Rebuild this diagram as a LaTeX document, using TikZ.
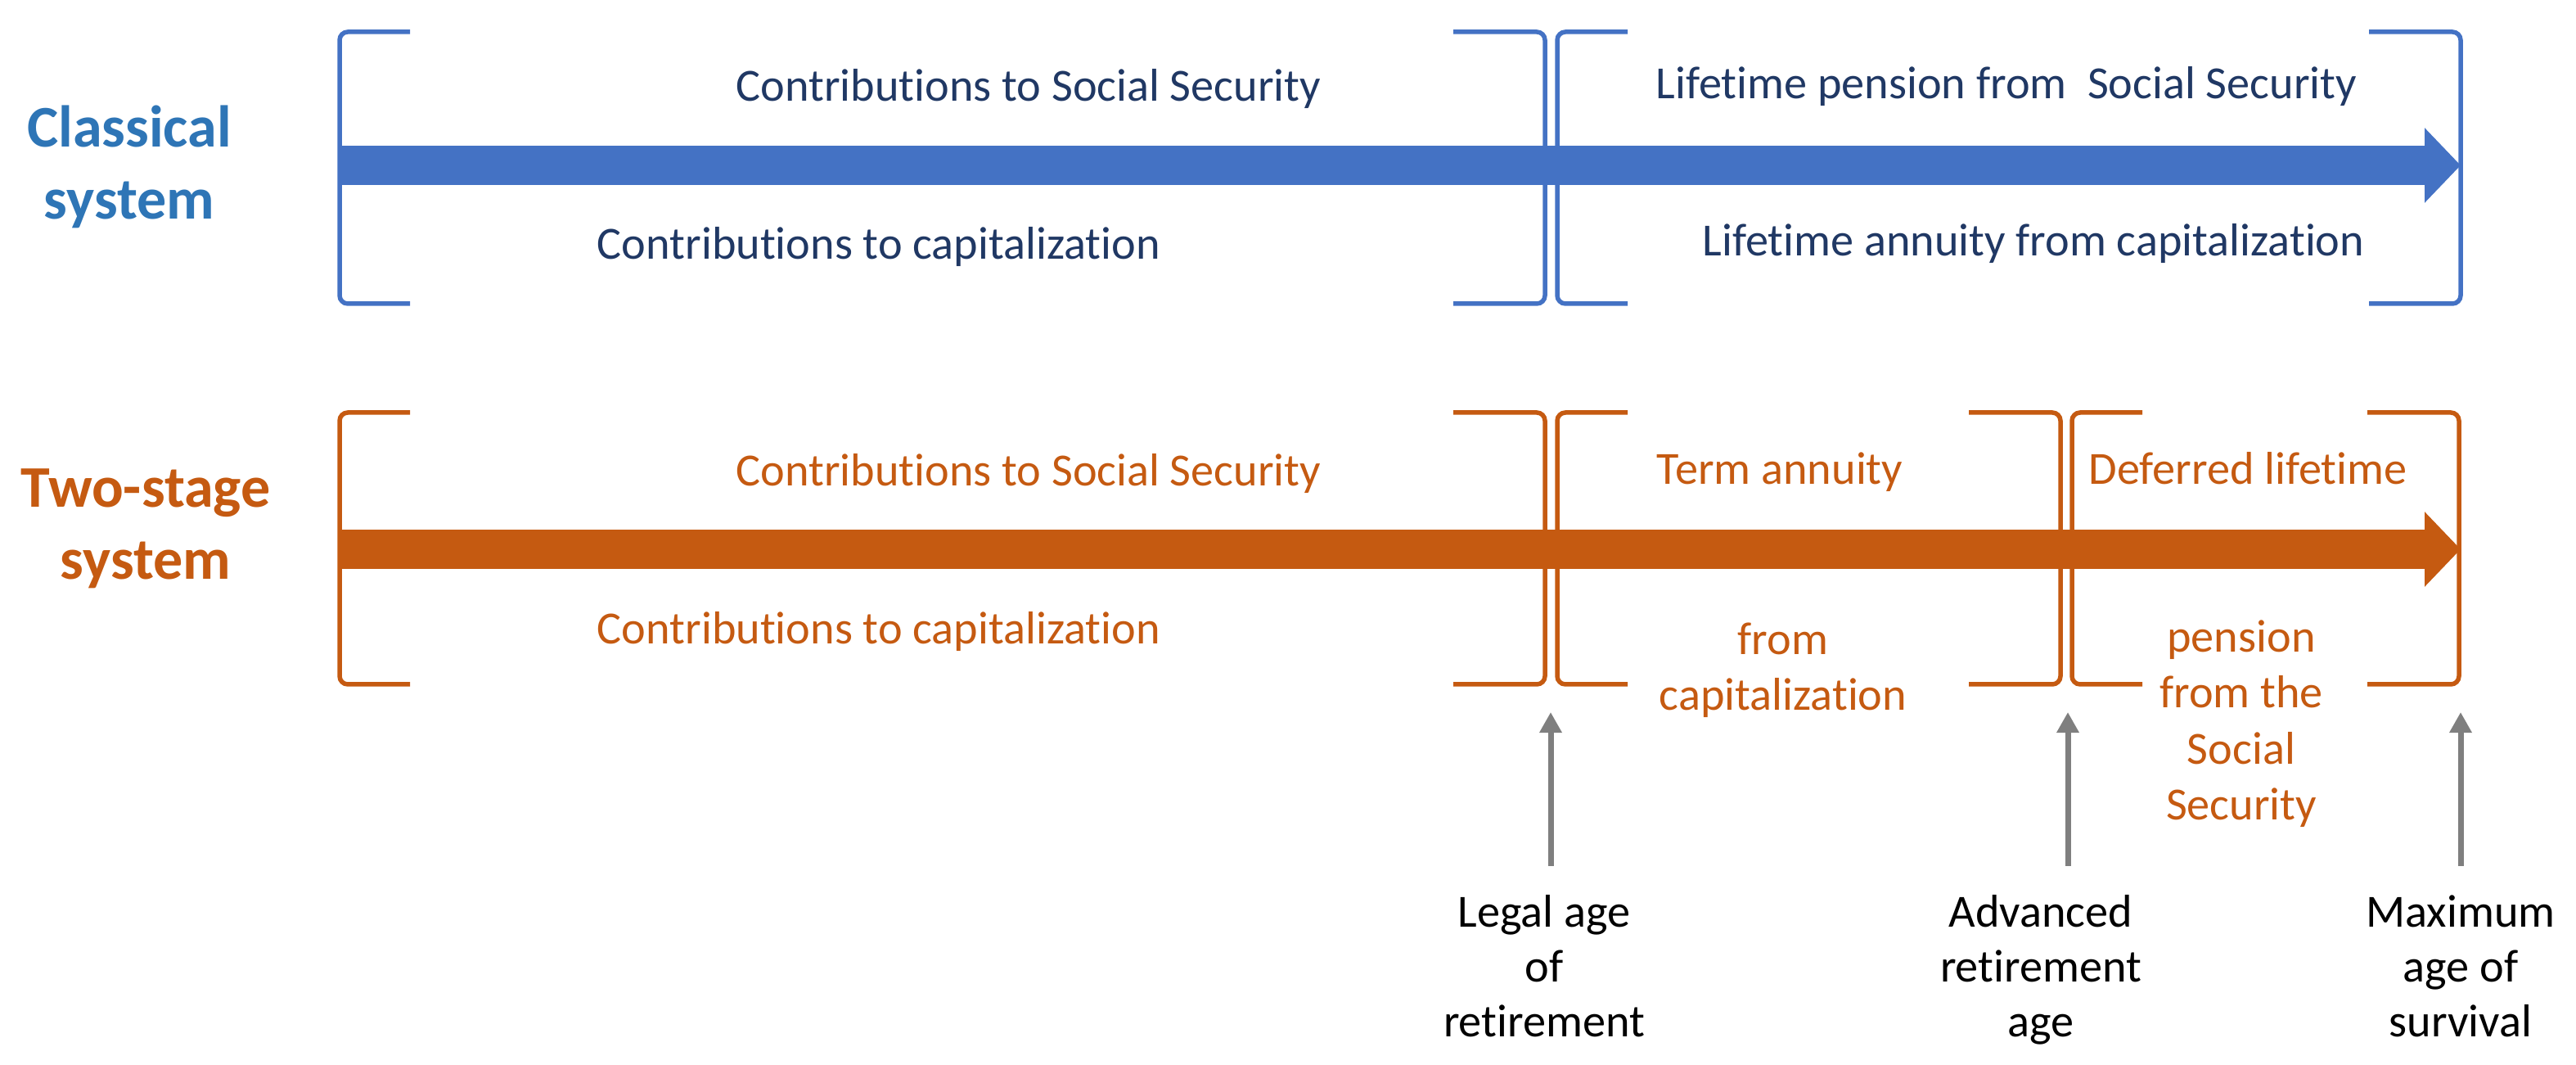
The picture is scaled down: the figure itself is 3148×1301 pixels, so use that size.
\documentclass[tikz,border=0pt]{standalone}
\usepackage{fontspec}
\setmainfont{Carlito}[Ligatures=NoCommon]
\usepackage{tikz}
\usetikzlibrary{arrows.meta,positioning}

\definecolor{clblue}{HTML}{4472C4}
\definecolor{cltitle}{HTML}{2E75B6}
\definecolor{cltext}{HTML}{203864}
\definecolor{tsorange}{HTML}{C55A11}
\definecolor{agegray}{HTML}{7F7F7F}

\tikzset{
    phase/.style={font=\fontsize{16}{19.5}\selectfont, anchor=base, align=center, inner sep=0pt},
    system/.style={font=\fontsize{20.5}{25.3}\selectfont\bfseries, anchor=base, align=center, inner sep=0pt},
    agelabel/.style={font=\fontsize{16}{19}\selectfont, anchor=base, align=center, inner sep=0pt},
    bracket/.style={line width=0.055cm, rounded corners=0.1cm},
    timeline/.style={line width=0.47cm, -{Triangle[length=0.44cm,width=0.89cm]}},
    pointer/.style={agegray, line width=0.07cm, shorten <=0.35cm, -{Triangle[length=0.25cm,width=0.26cm]}}
}

\begin{document}
\begin{tikzpicture}[x=0.01cm, y=-0.01cm]
    \useasboundingbox (0,0) rectangle (3148,1301);

    % Classical system
    \node[system, cltitle] (classical) at (158,268) {Classical\\system};
    \foreach \x in {415,1903}
        \draw[bracket, clblue] (\x+86,39) -- (\x,39) -- (\x,371) -- (\x+86,371);
    \foreach \x in {1888,3007}
        \draw[bracket, clblue] (\x-112,39) -- (\x,39) -- (\x,371) -- (\x-112,371);
    \coordinate (cstart) at (415,202);
    \coordinate (cend) at (3007,202);
    \draw[timeline, clblue] (cstart) -- (cend);
    \node[phase, cltext] (csocial) at (1257,124) {Contributions to Social Security};
    \node[phase, cltext] (ccapital) at (1074,317) {Contributions to capitalization};
    \node[phase, cltext] (cpension) at (2452,121) {Lifetime pension from\ \ Social Security};
    \node[phase, cltext] (cannuity) at (2485,313) {Lifetime annuity from capitalization};

    % Two-stage system
    \node[system, tsorange] (twostage) at (178,708) {Two-stage\\system};
    \foreach \x in {415,1903,2532}
        \draw[bracket, tsorange] (\x+86,504) -- (\x,504) -- (\x,836) -- (\x+86,836);
    \foreach \x in {1888,2518,3005}
        \draw[bracket, tsorange] (\x-112,504) -- (\x,504) -- (\x,836) -- (\x-112,836);
    \coordinate (tstart) at (415,671);
    \coordinate (tend) at (3007,671);
    \draw[timeline, tsorange] (tstart) -- (tend);
    \node[phase, tsorange] (tsocial) at (1257,594) {Contributions to Social Security};
    \node[phase, tsorange] (tcapital) at (1074,787) {Contributions to capitalization};
    \node[phase, tsorange] (tterm) at (2175,592) {Term annuity};
    \node[phase, tsorange] (ttermcap) at (2179,868) {from\\capitalization};
    \node[phase, tsorange] (tdeferred) at (2747,592) {Deferred lifetime};
    \node[phase, tsorange] (tdefpension) at (2739,1002) {pension\\from the\\Social\\Security};

    % Ages
    \node[agelabel] (legal) at (1887,1266) {Legal age\\of\\retirement};
    \node[agelabel] (advanced) at (2494,1266) {Advanced\\retirement\\age};
    \node[agelabel] (maximum) at (3007,1266) {Maximum\\age of\\survival};
    \coordinate (legaltip) at (1895,870);
    \coordinate (advancedtip) at (2527,870);
    \coordinate (maximumtip) at (3007,870);
    \draw[pointer] (legal.north -| legaltip) -- (legaltip);
    \draw[pointer] (advanced.north -| advancedtip) -- (advancedtip);
    \draw[pointer] (maximum.north -| maximumtip) -- (maximumtip);
\end{tikzpicture}
\end{document}
